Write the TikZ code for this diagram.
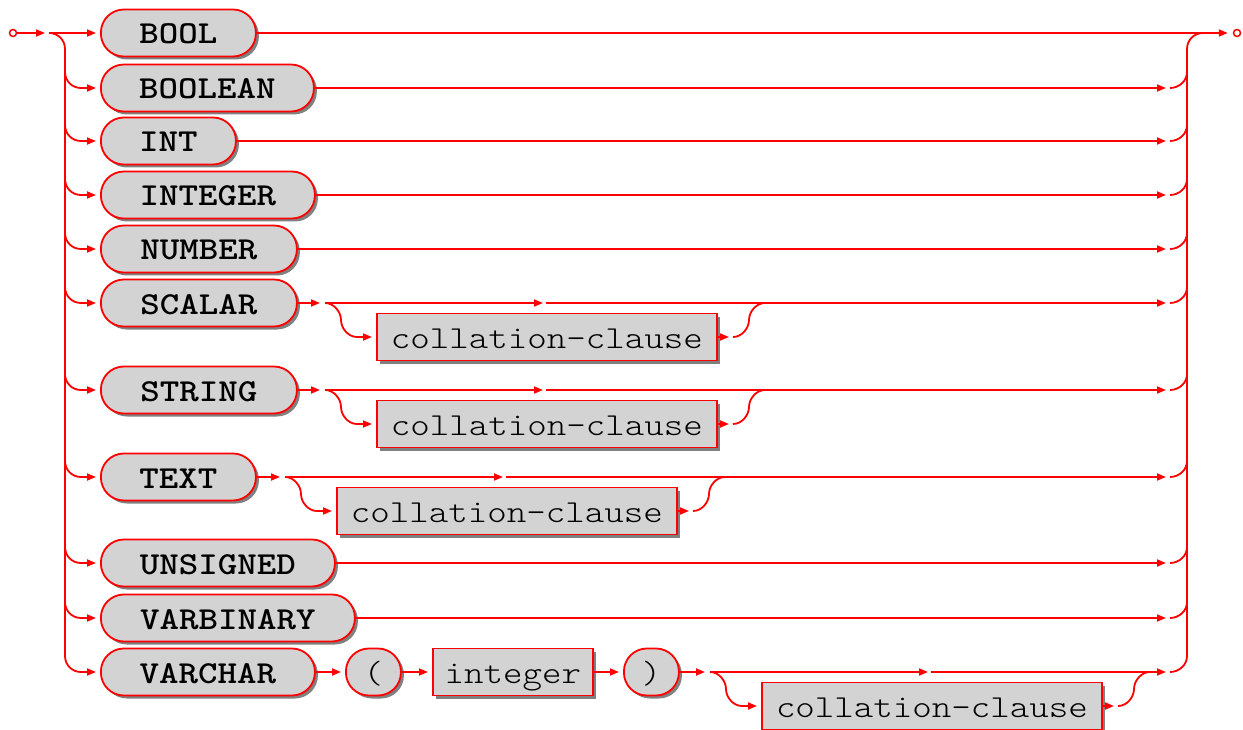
\documentclass[tikz,border=0pt]{standalone}
\usepackage{fontspec}
\newfontfamily\kwfont[FakeStretch=1.16,BoldFont={Latin Modern Mono Light/B}]{Latin Modern Mono Light}
\usetikzlibrary{arrows.meta,shadows}
\definecolor{boxfill}{RGB}{211,211,211}
\definecolor{shadowgray}{RGB}{128,128,128}
\newcommand\collrow[4]{%
  \pgfmathsetmacro\cy{#2+34}%
  \pgfmathsetmacro\bx{#3+51}%
  \pgfmathsetmacro\ex{#3+391}%
  \pgfmathsetmacro\midx{#3+220}%
  \node[nonterm,minimum width=340pt] (#1c) at (\bx,\cy) {collation-clause};
  \coordinate (#1s) at (#3,#2);
  \draw[arr,shorten >=5pt] (#4.east) -- (#1s);
  \draw[arr] (#1s) -- (\midx-2,#2);
  \draw[arr] (\midx+1,#2) -- (1166,#2);
  \draw[arr,shorten >=4pt] (#1s) .. controls +(9,0) and +(0,-8) .. (#3+16,#2+17)
      .. controls +(0,8) and +(-9,0) .. (#3+32,\cy) -- (#1c.west);
  \draw[arr,shorten >=4pt] (#1c.east) -- (\ex+17,\cy);
  \draw[line] (\ex+17,\cy) .. controls +(9,0) and +(0,8) .. (\ex+33,#2+17)
      .. controls +(0,-8) and +(-9,0) .. (\ex+49,#2);
}
\begin{document}
\begin{tikzpicture}[x=1pt,y=-1pt,
  line/.style={draw=red,line width=1.8pt},
  arr/.style={line,-{Triangle[length=9pt,width=7pt]}},
  boxbase/.style={draw=red,fill=boxfill,line width=1.8pt,minimum height=47pt,
    inner sep=0pt,anchor=west,text height=24pt,text depth=2pt,
    drop shadow={shadow xshift=3pt,shadow yshift=-3pt,fill=shadowgray,opacity=1}},
  term/.style={boxbase,rounded corners=23pt,font=\fontsize{32}{32}\selectfont\kwfont\bfseries},
  punct/.style={boxbase,rounded corners=23pt,font=\fontsize{32}{32}\selectfont\kwfont},
  nonterm/.style={boxbase,font=\fontsize{32}{32}\selectfont\kwfont},
  endpt/.style={circle,draw=red,line width=1.5pt,inner sep=0pt,minimum size=7pt,fill=white}
]
\useasboundingbox (0,0) rectangle (1243,730);

% terminals
\node[term,minimum width=155pt] (BOOL) at (100,33) {BOOL};
\node[term,minimum width=213pt] (BOOLEAN) at (100,88) {BOOLEAN};
\node[term,minimum width=135pt] (INT) at (100,141) {INT};
\node[term,minimum width=214pt] (INTEGER) at (100,195) {INTEGER};
\node[term,minimum width=196pt] (NUMBER) at (100,249) {NUMBER};
\node[term,minimum width=196pt] (SCALAR) at (100,303) {SCALAR};
\node[term,minimum width=196pt] (STRING) at (100,390) {STRING};
\node[term,minimum width=155pt] (TEXT) at (100,477) {TEXT};
\node[term,minimum width=234pt] (UNSIGNED) at (100,563) {UNSIGNED};
\node[term,minimum width=254pt] (VARBINARY) at (100,618) {VARBINARY};
\node[term,minimum width=214pt] (VARCHAR) at (100,672) {VARCHAR};
\node[punct,minimum width=55pt] (lp) at (345,672) {(};
\node[nonterm,minimum width=160pt] (integer) at (432,672) {integer};
\node[punct,minimum width=55pt] (rp) at (623,672) {)};

% start and end
\node[endpt] (start) at (13,33) {};
\node[endpt] (end) at (1237,33) {};
\coordinate (j0) at (49,33);
\draw[arr,shorten >=4pt] (start) -- (j0);
\draw[arr,shorten >=4pt] (j0) -- (BOOL.west);
\draw[line] (j0) .. controls +(9,0) and +(0,-9) .. (65,49) -- (65,656);
\foreach \n/\r in {BOOLEAN/88,INT/141,INTEGER/195,NUMBER/249,SCALAR/303,STRING/390,TEXT/477,UNSIGNED/563,VARBINARY/618,VARCHAR/672}{
  \draw[arr,shorten >=4pt] (65,\r-16) .. controls +(0,9) and +(-9,0) .. (81,\r) -- (\n.west);
}

% right side
\draw[arr,shorten >=5pt] (BOOL.east) -- (end);
\draw[line] (1187,656) -- (1187,49) .. controls +(0,-9) and +(-9,0) .. (1203,33);
\foreach \r in {88,141,195,249,303,390,477,563,618,672}{
  \draw[line] (1170,\r) .. controls +(9,0) and +(0,9) .. (1187,\r-16);
}
\foreach \n/\r in {BOOLEAN/88,INT/141,INTEGER/195,NUMBER/249,UNSIGNED/563,VARBINARY/618}{
  \draw[arr] (\n.east) -- (1166,\r);
}

% optional collation clauses
\collrow{sc}{303}{325}{SCALAR}
\collrow{st}{390}{325}{STRING}
\collrow{tx}{477}{285}{TEXT}

% VARCHAR row
\draw[arr,shorten >=4pt] (VARCHAR.east) -- (lp.west);
\draw[arr,shorten >=4pt] (lp.east) -- (integer.west);
\draw[arr,shorten >=4pt] (integer.east) -- (rp.west);
\collrow{vc}{672}{710}{rp}
\end{tikzpicture}
\end{document}
